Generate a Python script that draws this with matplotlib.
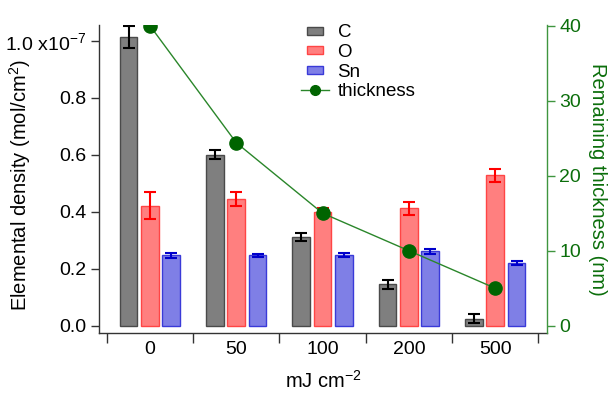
import matplotlib
matplotlib.use('Agg')
import matplotlib.pyplot as plt
import numpy as np
from matplotlib.patches import Rectangle
from matplotlib.legend_handler import HandlerPatch
from matplotlib.ticker import FuncFormatter

plt.rcParams['font.family'] = ['Liberation Sans', 'DejaVu Sans']
plt.rcParams['mathtext.fontset'] = 'custom'
plt.rcParams['mathtext.rm'] = 'Liberation Sans'
plt.rcParams['mathtext.it'] = 'Liberation Sans:italic'

# ---- data (densities in units of 1e-7 mol/cm^2) ----
categories = ['0', '50', '100', '200', '500']
c_vals = [1.013, 0.600, 0.310, 0.145, 0.024]
c_err = [0.040, 0.015, 0.014, 0.015, 0.016]
o_vals = [0.421, 0.445, 0.400, 0.412, 0.528]
o_err = [0.047, 0.025, 0.012, 0.022, 0.023]
sn_vals = [0.247, 0.247, 0.249, 0.261, 0.220]
sn_err = [0.009, 0.006, 0.007, 0.008, 0.008]
thickness = [40.0, 24.4, 15.0, 10.0, 5.0]
yticks_left = [0.0, 0.2, 0.4, 0.6, 0.8, 1.0]
yticks_right = [0, 10, 20, 30, 40]

green_txt = '#0b6e0b'
green_spine = '#3f953f'

fig = plt.figure(figsize=(6.14, 3.94), dpi=100)
ax = fig.add_axes([99/614, 61/394, 448/614, 308/394])

x = np.arange(len(categories))
w = 0.205
off = 0.247
series = [
    ('C', c_vals, c_err, '#7f7f7f', '#4a4a4a', '#000000'),
    ('O', o_vals, o_err, '#ff7f7f', '#ff4545', '#ff0000'),
    ('Sn', sn_vals, sn_err, '#7f7fe6', '#3a3ad8', '#0000cc'),
]
proxies = []
for k, (name, vals, errs, fc, ec, errc) in enumerate(series):
    ax.bar(x + (k - 1) * off, vals, width=w, color=fc, edgecolor=ec,
           linewidth=1.0, zorder=2)
    ax.errorbar(x + (k - 1) * off, vals, yerr=errs, fmt='none', ecolor=errc,
                elinewidth=1.5, capsize=4, capthick=1.5, zorder=3)
    proxies.append(Rectangle((0, 0), 1, 1, facecolor=fc, edgecolor=ec,
                             linewidth=1.0))

ax.set_xlim(-0.59, 4.60)
ax.set_ylim(-0.0256, 1.055)
ax.set_yticks(yticks_left)
ax.yaxis.set_major_formatter(FuncFormatter(
    lambda v, p: '1.0 x10$^{-7}$' if abs(v - 1.0) < 1e-9 else f'{v:.1f}'))
ax.tick_params(axis='y', direction='out', length=6, width=1, pad=3,
               labelsize=14, color='#333333')
ax.set_xticks(np.arange(-0.5, len(categories), 1.0))
ax.set_xticklabels([''] * (len(categories) + 1))
ax.set_xticks(x, minor=True)
ax.set_xticklabels(categories, minor=True)
ax.tick_params(axis='x', which='major', direction='out', length=7, width=1,
               color='#333333')
ax.tick_params(axis='x', which='minor', length=0, pad=6, labelsize=14)
ax.spines['top'].set_visible(False)
ax.spines['right'].set_visible(False)
for s in ['left', 'bottom']:
    ax.spines[s].set_color('#333333')
    ax.spines[s].set_linewidth(1)
ax.set_ylabel('Elemental density (mol/cm$^2$)', fontsize=14.5)
ax.yaxis.set_label_coords(-0.148, 0.48)
ax.set_xlabel('mJ cm$^{-2}$', fontsize=14.5)
ax.xaxis.set_label_coords(0.5, -0.12)

ax2 = ax.twinx()
ln, = ax2.plot(x, thickness, '-', color='#2a862a', linewidth=1.0,
               marker='o', markersize=9.5, markerfacecolor='#006400',
               markeredgecolor='#006400', zorder=4)
ax2.set_ylim(-0.97, 40.09)
ax2.set_yticks(yticks_right)
ax2.tick_params(axis='y', direction='out', length=6, width=1, pad=3,
                labelsize=14, colors=green_txt)
ax2.tick_params(axis='y', color=green_spine)
for s in ['top', 'left', 'bottom']:
    ax2.spines[s].set_visible(False)
ax2.spines['right'].set_color(green_spine)
ax2.spines['right'].set_linewidth(1)
ax2.set_ylabel('Remaining thickness (nm)', fontsize=14.5, color=green_txt,
               rotation=270, labelpad=0)
ax2.yaxis.set_label_coords(1.135, 0.5)


def small_patch(legend, orig_handle, xdescent, ydescent, width, height, fontsize):
    pw = width * 0.55
    ph = height * 0.6
    return Rectangle((xdescent + (width - pw) / 2, ydescent + (height - ph) / 2),
                     pw, ph)


leg = ax2.legend(proxies + [ln], ['C', 'O', 'Sn', 'thickness'],
                 loc='upper left', bbox_to_anchor=(301/614, 1 - 24/394),
                 bbox_transform=fig.transFigure, frameon=False, fontsize=13.5,
                 handlelength=1.5, handletextpad=0.45, labelspacing=0.14,
                 borderpad=0, borderaxespad=0,
                 handler_map={Rectangle: HandlerPatch(patch_func=small_patch)})
for h in leg.legend_handles[3:]:
    h.set_markersize(7)

fig.savefig('out.png', dpi=100)
